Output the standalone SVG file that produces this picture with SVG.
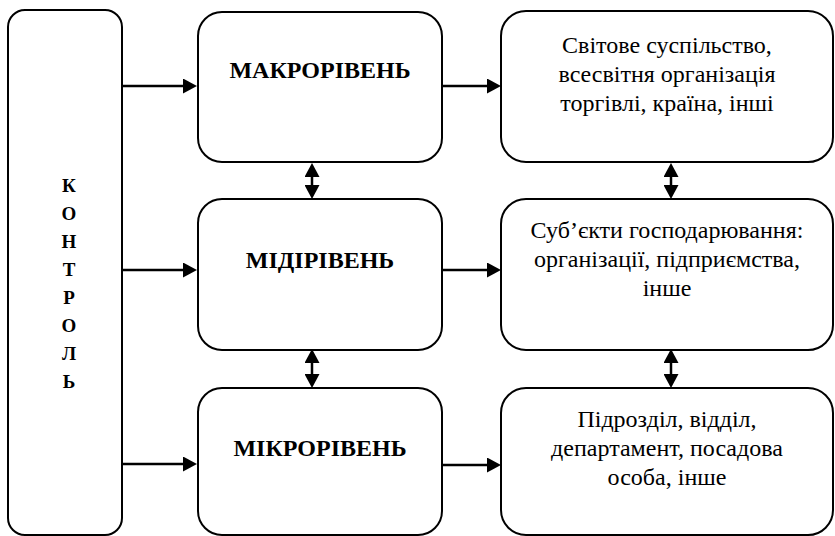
<svg xmlns="http://www.w3.org/2000/svg" width="835" height="536" viewBox="0 0 835 536">
<style>
.box{fill:#fff;stroke:#000;stroke-width:2}
.lvl{font-family:'Liberation Serif','Times New Roman',Times,'DejaVu Serif',serif;font-weight:bold;font-size:24px;text-anchor:middle;fill:#000}
.desc{font-family:'Liberation Serif','Times New Roman',Times,'DejaVu Serif',serif;font-size:24px;text-anchor:middle;fill:#000}
.vert{font-family:'Liberation Serif','Times New Roman',Times,'DejaVu Serif',serif;font-weight:bold;font-size:19px;text-anchor:middle;fill:#000}
.conn{stroke:#000;stroke-width:2.5;fill:none}
</style>
<defs>
<marker id="ah" viewBox="0 0 14 15" refX="0" refY="7.5" markerWidth="14" markerHeight="15" markerUnits="userSpaceOnUse" orient="auto-start-reverse">
<path d="M0,0 L14,7.5 L0,15 z" fill="#000"/>
</marker>
</defs>
<rect width="835" height="536" fill="#fff"/>
<g id="control">
<rect class="box" x="8" y="10" width="114" height="525" rx="17"/>
<text class="vert" x="69" y="192">К</text>
<text class="vert" x="69" y="220">О</text>
<text class="vert" x="69" y="248">Н</text>
<text class="vert" x="69" y="276">Т</text>
<text class="vert" x="69" y="304">Р</text>
<text class="vert" x="69" y="332">О</text>
<text class="vert" x="69" y="360">Л</text>
<text class="vert" x="69" y="388">Ь</text>
</g>
<g id="macro">
<rect class="box" x="198" y="12" width="244" height="150" rx="24"/>
<text class="lvl" x="320" y="78">МАКРОРІВЕНЬ</text>
</g>
<g id="midi">
<rect class="box" x="198" y="199" width="244" height="151" rx="24"/>
<text class="lvl" x="320" y="268">МІДІРІВЕНЬ</text>
</g>
<g id="micro">
<rect class="box" x="198" y="388" width="244" height="147" rx="24"/>
<text class="lvl" x="320" y="456">МІКРОРІВЕНЬ</text>
</g>
<g id="macro-desc">
<rect class="box" x="501" y="11" width="332" height="151" rx="25"/>
<text class="desc" x="667" y="53">Світове суспільство,</text>
<text class="desc" x="667" y="82">всесвітня організація</text>
<text class="desc" x="667" y="111">торгівлі, країна, інші</text>
</g>
<g id="midi-desc">
<rect class="box" x="501" y="199" width="332" height="151" rx="25"/>
<text class="desc" x="667" y="238">Суб’єкти господарювання:</text>
<text class="desc" x="667" y="267">організації, підприємства,</text>
<text class="desc" x="667" y="296">інше</text>
</g>
<g id="micro-desc">
<rect class="box" x="501" y="388" width="332" height="147" rx="25"/>
<text class="desc" x="667" y="427">Підрозділ, відділ,</text>
<text class="desc" x="667" y="456">департамент, посадова</text>
<text class="desc" x="667" y="485">особа, інше</text>
</g>
<g id="connectors">
<line class="conn" x1="122" y1="86" x2="183" y2="86" marker-end="url(#ah)"/>
<line class="conn" x1="122" y1="270" x2="183" y2="270" marker-end="url(#ah)"/>
<line class="conn" x1="122" y1="464" x2="183" y2="464" marker-end="url(#ah)"/>
<line class="conn" x1="442" y1="86" x2="487" y2="86" marker-end="url(#ah)"/>
<line class="conn" x1="442" y1="270" x2="487" y2="270" marker-end="url(#ah)"/>
<line class="conn" x1="442" y1="465" x2="487" y2="465" marker-end="url(#ah)"/>
<line class="conn" x1="312" y1="177" x2="312" y2="185" marker-start="url(#ah)" marker-end="url(#ah)"/>
<line class="conn" x1="312" y1="363" x2="312" y2="374" marker-start="url(#ah)" marker-end="url(#ah)"/>
<line class="conn" x1="671" y1="177" x2="671" y2="185" marker-start="url(#ah)" marker-end="url(#ah)"/>
<line class="conn" x1="671" y1="363" x2="671" y2="374" marker-start="url(#ah)" marker-end="url(#ah)"/>
</g>
</svg>
